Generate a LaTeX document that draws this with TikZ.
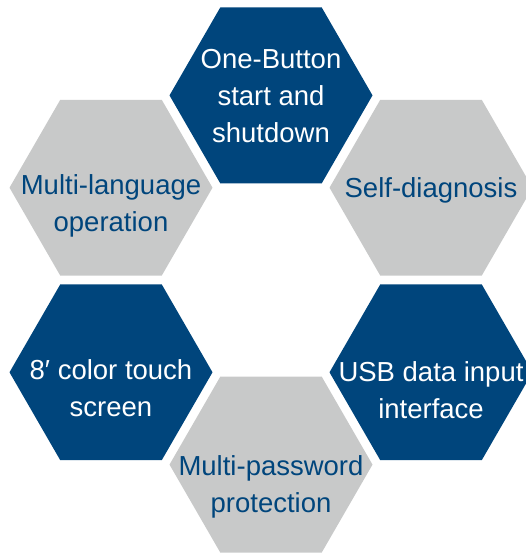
\documentclass[tikz,border=0pt]{standalone}
\usepackage{fontspec}
\setmainfont{Liberation Sans}
\usetikzlibrary{shapes.geometric}
\definecolor{hexblue}{RGB}{0,69,124}
\definecolor{hexgray}{RGB}{200,201,201}
\begin{document}
\begin{tikzpicture}[x=1pt, y=-1pt,
    hexa/.style={regular polygon, regular polygon sides=6, minimum size=203pt,
      inner sep=0pt, outer sep=0pt, draw=none},
    hexdark/.style={hexa, fill=hexblue},
    hexlight/.style={hexa, fill=hexgray},
    txt/.style={align=center, inner sep=0pt, font=\fontsize{27.5}{37}\selectfont},
    txtdark/.style={txt, text=white},
    txtlight/.style={txt, text=hexblue}]
      \useasboundingbox (0, 0) rectangle (525, 553);
      % hexagons
      \node[hexdark] (onebutton) at (271, 95.4) {};
      \node[hexlight] (language) at (111, 187.7) {};
      \node[hexlight] (diagnosis) at (431, 187.7) {};
      \node[hexdark] (touch) at (111, 372.3) {};
      \node[hexdark] (usb) at (431, 372.3) {};
      \node[hexlight] (password) at (271, 464.6) {};
      % labels
      \node[txtdark, yshift=-1pt] (onebuttontxt) at (onebutton) {One-Button\\start and\\shutdown};
      \node[txtlight, yshift=-18pt] (languagetxt) at (language) {Multi-language\\operation};
      \node[txtlight, yshift=-3pt] (diagnosistxt) at (diagnosis) {Self-diagnosis};
      \node[txtdark, yshift=-16pt] (touchtxt) at (touch) {8′ color touch\\screen};
      \node[txtdark, yshift=-18pt] (usbtxt) at (usb) {USB data input\\interface};
      \node[txtlight, yshift=-22pt] (passwordtxt) at (password) {Multi-password\\protection};
    \end{tikzpicture}
\end{document}
